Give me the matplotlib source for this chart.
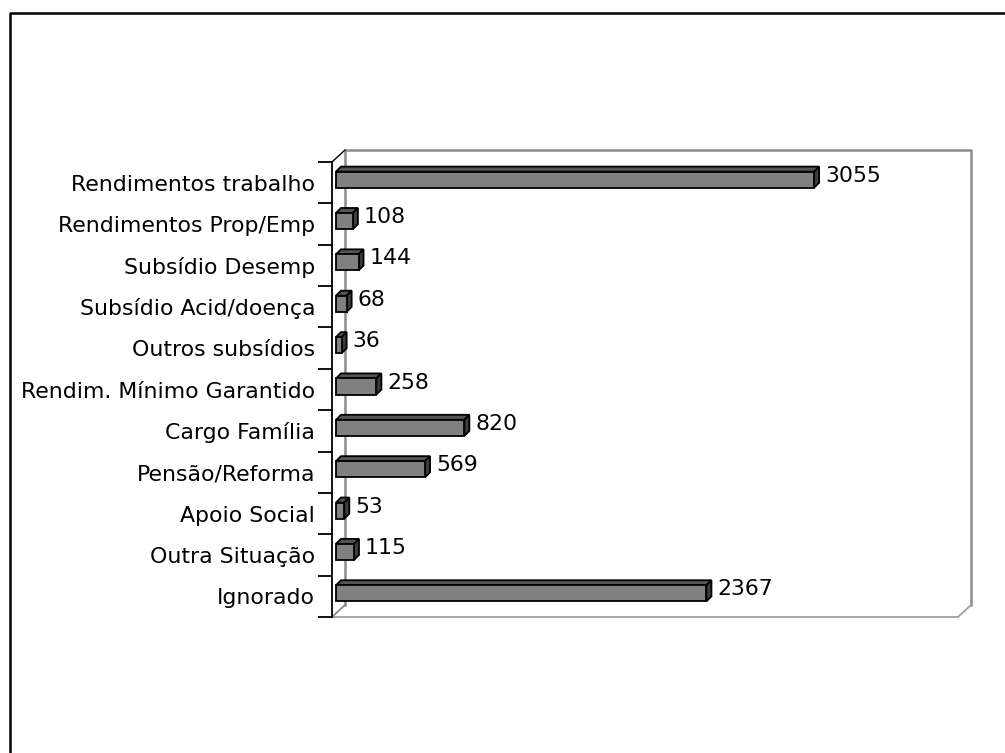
import matplotlib
matplotlib.use("Agg")
import matplotlib.pyplot as plt
import matplotlib.transforms as mtransforms
from matplotlib.patches import Polygon
from matplotlib.lines import Line2D

# data
categories = ["Rendimentos trabalho", "Rendimentos Prop/Emp", "Subsídio Desemp",
              "Subsídio Acid/doença", "Outros subsídios", "Rendim. Mínimo Garantido",
              "Cargo Família", "Pensão/Reforma", "Apoio Social", "Outra Situação",
              "Ignorado"]
values = [3055, 108, 144, 68, 36, 258, 820, 569, 53, 115, 2367]

W, H = 1005, 753
fig = plt.figure(figsize=(W / 100, H / 100), dpi=100)
fig.patch.set_facecolor("white")

# front plane of the 3D plot area (pixels)
x0, x1, ytop, ybot = 332, 958, 162, 617
ax = fig.add_axes([x0 / W, 1 - ybot / H, (x1 - x0) / W, (ybot - ytop) / H])
ax.set_xlim(0, 4000)
ax.set_ylim(len(categories) - 0.5, -0.5)
ax.patch.set_alpha(0)
for s in ["top", "right", "bottom"]:
    ax.spines[s].set_visible(False)
ax.spines["left"].set_linewidth(1.3)
ax.set_xticks([])
ax.set_yticks(range(len(categories)))
ax.set_yticklabels(categories, fontsize=15.8)
ax.tick_params(axis="y", which="major", length=0, pad=12)
ax.set_yticks([i - 0.5 for i in range(len(categories) + 1)], minor=True)
ax.tick_params(axis="y", which="minor", length=10, width=1.3)

fig.canvas.draw()
T = ax.transData


def px(x, y):
    # data -> display pixels
    return T.transform((x, y))


# back wall and floor (gray)
wdx, wdy = 13, 12
gray = "#8c8c8c"
bl = px(0, len(categories) - 0.5)
tl = px(0, -0.5)
br = px(4000, len(categories) - 0.5)
tr = px(4000, -0.5)
back = [(bl[0] + wdx, bl[1] + wdy), (tl[0] + wdx, tl[1] + wdy),
        (tr[0] + wdx, tr[1] + wdy), (br[0] + wdx, br[1] + wdy)]
ident = mtransforms.IdentityTransform()
ax.add_line(Line2D([p[0] for p in back], [p[1] for p in back], color=gray,
                   lw=1.8, transform=ident, clip_on=False, zorder=1))
ax.add_line(Line2D([bl[0], br[0], br[0] + wdx], [bl[1], br[1], br[1] + wdy],
                   color="#a0a0a0", lw=1.3, transform=ident, clip_on=False, zorder=1))
ax.add_line(Line2D([bl[0], bl[0] + wdx], [bl[1], bl[1] + wdy], color=gray,
                   lw=1.3, transform=ident, clip_on=False, zorder=1))
ax.add_line(Line2D([tl[0], tl[0] + wdx], [tl[1], tl[1] + wdy], color="black",
                   lw=1.0, transform=ident, clip_on=False, zorder=1))

# 3D bars
bh = 0.39
fx, fy = 4, 3      # front face offset into depth
d = 5              # bar depth
for i, v in enumerate(values):
    a = px(0, i - bh / 2)
    b = px(v, i - bh / 2)
    c = px(v, i + bh / 2)
    e = px(0, i + bh / 2)
    a, b, c, e = [(p[0] + fx, p[1] + fy) for p in (a, b, c, e)]
    top = [a, b, (b[0] + d, b[1] + d), (a[0] + d, a[1] + d)]
    side = [b, c, (c[0] + d, c[1] + d), (b[0] + d, b[1] + d)]
    front = [a, b, c, e]
    for poly, col in ((top, "#555555"), (side, "#3c3c3c"), (front, "#808080")):
        ax.add_patch(Polygon(poly, closed=True, facecolor=col, edgecolor="black",
                             lw=1.3, transform=ident, clip_on=False, zorder=3))
    ax.annotate(str(v), xy=(v, i), xytext=(15, 7), textcoords="offset pixels",
                ha="left", va="center", fontsize=15.8, zorder=4)

# outer chart border
fig.add_artist(Line2D([9.5, 9.5, W], [0, H - 12.5, H - 12.5], color="black",
                      lw=1.8, transform=ident))

fig.savefig("out.png", dpi=100)
